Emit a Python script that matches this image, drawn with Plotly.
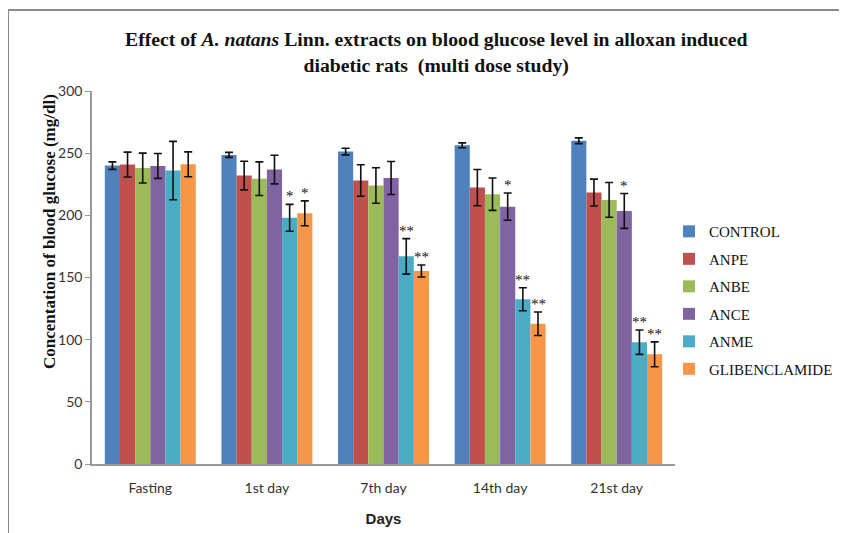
import plotly.graph_objects as go

categories = ["Fasting", "1st day", "7th day", "14th day", "21st day"]
series_names = ["CONTROL", "ANPE", "ANBE", "ANCE", "ANME", "GLIBENCLAMIDE"]

control = [240, 248.6, 251.3, 256.3, 260]
control_err = [3, 2, 2.7, 2, 2.3]
anpe = [240.8, 232, 228, 222.3, 218.3]
anpe_err = [10, 11.5, 12.7, 14.6, 10.8]
anbe = [238, 229.5, 224, 217, 212.4]
anbe_err = [12, 13.5, 14.3, 13, 14]
ance = [239.7, 236.8, 230, 207, 203.5]
ance_err = [10, 11.5, 13.3, 11, 14]
anme = [236, 198, 167, 132.5, 98]
anme_err = [23.5, 10.8, 14.3, 9.3, 9.8]
glib = [241, 201.6, 155.2, 112.8, 88.2]
glib_err = [10, 10, 4.8, 9.4, 10]

control_stars = ["", "", "", "", ""]
anpe_stars = ["", "", "", "", ""]
anbe_stars = ["", "", "", "", ""]
ance_stars = ["", "", "", "*", "*"]
anme_stars = ["", "*", "**", "**", "**"]
glib_stars = ["", "*", "**", "**", "**"]

values = [control, anpe, anbe, ance, anme, glib]
errors = [control_err, anpe_err, anbe_err, ance_err, anme_err, glib_err]
stars = [control_stars, anpe_stars, anbe_stars, ance_stars, anme_stars, glib_stars]
colors = ["#4F81BD", "#C0504D", "#9BBB59", "#8064A2", "#4BACC6", "#F79646"]

BARGAP = 0.22
fig = go.Figure()
for i, name in enumerate(series_names):
    fig.add_trace(go.Bar(
        x=categories, y=values[i], name=name, legendgroup=name,
        marker=dict(color=colors[i], line=dict(width=0)),
        error_y=dict(type="data", array=errors[i], visible=True,
                     color="#111111", thickness=1.6, width=4),
    ))

n = len(series_names)
group_w = 1 - BARGAP
bar_w = group_w / n
annotations = []
for i in range(n):
    for j, s in enumerate(stars[i]):
        if s:
            annotations.append(dict(
                x=j - group_w / 2 + (i + 0.5) * bar_w, xref="x",
                y=values[i][j] + errors[i][j], yref="y",
                text=s, showarrow=False, yanchor="bottom", yshift=-2,
                font=dict(family="Liberation Serif", size=15, color="#111111"),
            ))

annotations.append(dict(
    text="<b>Effect of <i>A. natans</i> Linn. extracts on blood glucose level in alloxan induced<br>diabetic rats  (multi dose study)</b>",
    xref="paper", yref="paper", x=0.59, y=1.104, showarrow=False,
    xanchor="center", yanchor="middle",
    font=dict(family="Liberation Serif", size=19.7, color="#111111"),
))
annotations.append(dict(
    text="<b>Concentation of blood glucose (mg/dl)</b>",
    xref="paper", yref="paper", x=-0.072, y=0.622, showarrow=False,
    textangle=-90, xanchor="center", yanchor="middle",
    font=dict(family="Liberation Serif", size=17, color="#111111"),
))

fig.update_layout(
    width=847, height=533, autosize=False,
    margin=dict(l=84, r=180, t=83, b=77, autoexpand=False),
    paper_bgcolor="white", plot_bgcolor="white",
    barmode="group", bargap=BARGAP, bargroupgap=0,
    showlegend=True,
    legend=dict(x=0.7804, y=0.452, xref="container", yref="container",
                xanchor="left", yanchor="middle",
                font=dict(family="Liberation Serif", size=15, color="#111111"),
                tracegroupgap=5, itemwidth=30, bgcolor="rgba(0,0,0,0)"),
    annotations=annotations,
    font=dict(family="Lato", color="#333333"),
)
fig.update_xaxes(showline=True, linecolor="#9a9a9a", linewidth=1.5, automargin=False,
                 showgrid=False, ticks="", ticklabelstandoff=10,
                 tickfont=dict(family="Lato", size=14, color="#333333"),
                 title=dict(text="<b>Days</b>", font=dict(family="Liberation Sans", size=15, color="#222222"), standoff=19))
fig.update_yaxes(range=[0, 300], dtick=50, showline=True, linecolor="#9a9a9a", linewidth=1.5,
                 showgrid=False, ticks="outside", ticklen=5, tickcolor="#9a9a9a", automargin=False,
                 tickfont=dict(family="Lato", size=14, color="#333333"), zeroline=False)

fig.add_shape(type="line", xref="paper", yref="paper", x0=-0.144, x1=1.5, y0=1.217, y1=1.217,
              line=dict(color="#8c8c8c", width=2))
fig.add_shape(type="line", xref="paper", yref="paper", x0=-0.144, x1=-0.144, y0=-0.5, y1=1.217,
              line=dict(color="#8c8c8c", width=2))

fig.write_html("out.html")
